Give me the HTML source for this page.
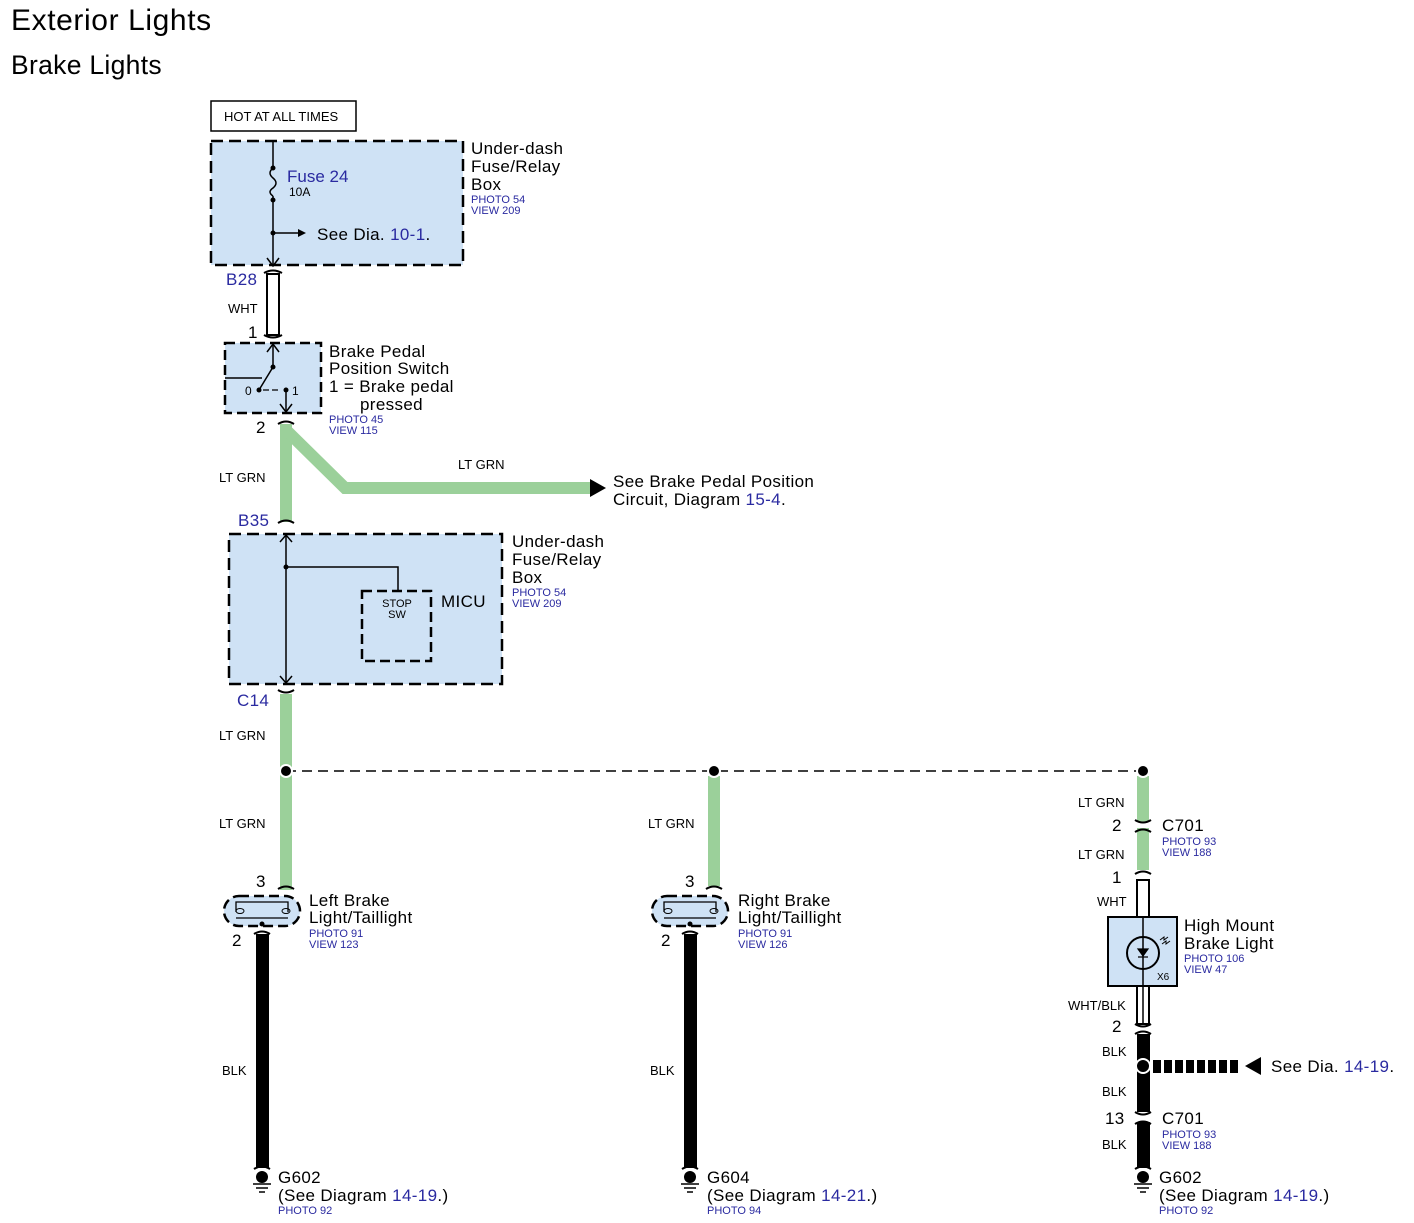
<!DOCTYPE html>
<html><head><meta charset="utf-8">
<style>
html,body{margin:0;padding:0;background:#fff;}
svg{display:block;font-family:"Liberation Sans",Arial,sans-serif;}
.b{fill:#2a2aa0}
.s{font-size:11px;fill:#2a2aa0}
.w{font-size:13px}
.t{font-size:17px;letter-spacing:0.35px}
</style></head><body>
<svg width="1414" height="1223" viewBox="0 0 1414 1223" xmlns="http://www.w3.org/2000/svg">
<rect width="1414" height="1223" fill="#fff"/>
<text x="11" y="30" font-size="30" letter-spacing="0.6">Exterior Lights</text>
<text x="11" y="74" font-size="26.5" letter-spacing="0.3">Brake Lights</text>

<!-- HOT AT ALL TIMES -->
<rect x="211" y="101" width="145" height="30" fill="#fff" stroke="#000" stroke-width="1.5"/>
<text x="224" y="121" font-size="13">HOT AT ALL TIMES</text>

<!-- Fuse box -->
<rect x="211" y="141" width="252" height="124" fill="#cfe2f5" stroke="#000" stroke-width="2.5" stroke-dasharray="12,6"/>
<line x1="273" y1="141" x2="273" y2="168" stroke="#000" stroke-width="1.5"/>
<path d="M273 168 q-6 5 0 10 q6 5 0 10 q-6 4 0 8" fill="none" stroke="#000" stroke-width="1.5"/>
<line x1="273" y1="196" x2="273" y2="265" stroke="#000" stroke-width="1.5"/>
<circle cx="273" cy="168" r="2.5"/><circle cx="273" cy="200" r="2.5"/><circle cx="273" cy="233" r="2.5"/>
<line x1="273" y1="233" x2="300" y2="233" stroke="#000" stroke-width="1.5"/>
<path d="M298 229 L306 233 L298 237 Z"/>
<path d="M267 258 L273 266 L279 258" fill="none" stroke="#000" stroke-width="1.5"/>
<text x="287" y="182" font-size="17" class="b">Fuse 24</text>
<text x="289" y="196" font-size="12">10A</text>
<text x="317" y="240" class="t">See Dia. <tspan class="b">10-1</tspan>.</text>
<text x="471" y="154" class="t">Under-dash</text>
<text x="471" y="172" class="t">Fuse/Relay</text>
<text x="471" y="190" class="t">Box</text>
<text x="471" y="203" class="s">PHOTO 54</text>
<text x="471" y="214" class="s">VIEW 209</text>

<!-- WHT wire B28 -->
<text x="226" y="285" class="t b">B28</text>
<path d="M264 273 q9 -5 18 0 M264 335 q9 5 18 0" fill="none" stroke="#000" stroke-width="2"/>
<rect x="267" y="274" width="12" height="61" fill="#fff" stroke="#000" stroke-width="2"/>
<text x="228" y="313" class="w">WHT</text>
<text x="248" y="338" class="t">1</text>

<!-- Brake pedal switch -->
<rect x="225" y="343" width="96" height="70" fill="#cfe2f5" stroke="#000" stroke-width="2.5" stroke-dasharray="10,5"/>
<path d="M267 352 L273 344 L279 352" fill="none" stroke="#000" stroke-width="1.5"/>
<line x1="273" y1="344" x2="273" y2="367" stroke="#000" stroke-width="1.5"/>
<circle cx="273" cy="367" r="2.5"/>
<line x1="273" y1="367" x2="259" y2="390" stroke="#000" stroke-width="1.5"/>
<circle cx="259" cy="390" r="2.5"/><circle cx="286" cy="390" r="2.5"/>
<line x1="225" y1="378" x2="262" y2="378" stroke="#000" stroke-width="1.5"/>
<path d="M263 390 h6 M272 390 h6" stroke="#000" stroke-width="1.2"/>
<line x1="286" y1="390" x2="286" y2="411" stroke="#000" stroke-width="1.5"/>
<path d="M280 404 L286 412 L292 404" fill="none" stroke="#000" stroke-width="1.5"/>
<text x="245" y="395" font-size="12">0</text>
<text x="292" y="395" font-size="12">1</text>
<text x="329" y="357" class="t">Brake Pedal</text>
<text x="329" y="374" class="t">Position Switch</text>
<text x="329" y="392" class="t">1 = Brake pedal</text>
<text x="360" y="410" class="t">pressed</text>
<text x="329" y="423" class="s">PHOTO 45</text>
<text x="329" y="434" class="s">VIEW 115</text>
<text x="256" y="433" class="t">2</text>

<!-- green wires -->
<g stroke="#9bd09a" stroke-width="12" fill="none">
<path d="M286 424 V522"/>
<path d="M286 430 L345 488 H592" stroke-linejoin="miter"/>
<path d="M286 694 V890"/>
<path d="M714 776 V886"/>
<path d="M1143 776 V822"/>
<path d="M1143 828 V870"/>
</g>
<path d="M590 479 L606 488 L590 497 Z"/>
<text x="458" y="469" class="w">LT GRN</text>
<text x="613" y="487" class="t">See Brake Pedal Position</text>
<text x="613" y="505" class="t">Circuit, Diagram <tspan class="b">15-4</tspan>.</text>
<path d="M278 424 q8 -5 16 0" fill="none" stroke="#000" stroke-width="2"/>
<text x="219" y="482" class="w">LT GRN</text>

<!-- MICU box -->
<text x="238" y="526" class="t b">B35</text>
<path d="M278 523 q8 -5 16 0 M278 690 q8 5 16 0" fill="none" stroke="#000" stroke-width="2"/>
<rect x="229" y="534" width="273" height="150" fill="#cfe2f5" stroke="#000" stroke-width="2.5" stroke-dasharray="12,6"/>
<line x1="286" y1="535" x2="286" y2="683" stroke="#000" stroke-width="1.5"/>
<path d="M280 542 L286 535 L292 542 M280 676 L286 683 L292 676" fill="none" stroke="#000" stroke-width="1.5"/>
<circle cx="286" cy="567" r="2.5"/>
<path d="M286 567 H398 V591" fill="none" stroke="#000" stroke-width="1.5"/>
<rect x="362" y="591" width="69" height="70" fill="none" stroke="#000" stroke-width="2.5" stroke-dasharray="10,5"/>
<text x="397" y="607" font-size="11" text-anchor="middle">STOP</text>
<text x="397" y="618" font-size="11" text-anchor="middle">SW</text>
<text x="441" y="607" class="t">MICU</text>
<text x="512" y="547" class="t">Under-dash</text>
<text x="512" y="565" class="t">Fuse/Relay</text>
<text x="512" y="583" class="t">Box</text>
<text x="512" y="596" class="s">PHOTO 54</text>
<text x="512" y="607" class="s">VIEW 209</text>
<text x="237" y="706" class="t b">C14</text>
<text x="219" y="740" class="w">LT GRN</text>

<!-- dashed bus -->
<line x1="286" y1="771" x2="1143" y2="771" stroke="#000" stroke-width="1.5" stroke-dasharray="10,6"/>
<circle cx="286" cy="771" r="6" stroke="#fff" stroke-width="2"/>
<circle cx="714" cy="771" r="6" stroke="#fff" stroke-width="2"/>
<circle cx="1143" cy="771" r="6" stroke="#fff" stroke-width="2"/>

<!-- Left light -->
<text x="219" y="828" class="w">LT GRN</text>
<text x="256" y="887" class="t">3</text>
<path d="M278 889 q8 -5 16 0" fill="none" stroke="#000" stroke-width="2"/>
<rect x="224" y="896" width="76" height="30" rx="15" fill="#cfe2f5" stroke="#000" stroke-width="2.5" stroke-dasharray="10,5"/>
<path d="M236 912 V902 h52 V912 M236 918 h52" fill="none" stroke="#000" stroke-width="1.3"/>
<ellipse cx="240" cy="911" rx="4" ry="2.5" fill="none" stroke="#000"/><ellipse cx="286" cy="911" rx="4" ry="2.5" fill="none" stroke="#000"/>
<circle cx="262" cy="924" r="2.5"/>
<rect x="256" y="934" width="13" height="234"/>
<path d="M254 934 q8 -5 16 0" fill="none" stroke="#000" stroke-width="2"/>
<text x="232" y="946" class="t">2</text>
<text x="309" y="906" class="t">Left Brake</text>
<text x="309" y="923" class="t">Light/Taillight</text>
<text x="309" y="937" class="s">PHOTO 91</text>
<text x="309" y="948" class="s">VIEW 123</text>
<text x="222" y="1075" class="w">BLK</text>

<!-- Right light -->
<text x="648" y="828" class="w">LT GRN</text>
<text x="685" y="887" class="t">3</text>
<path d="M706 889 q8 -5 16 0" fill="none" stroke="#000" stroke-width="2"/>
<rect x="652" y="896" width="76" height="30" rx="15" fill="#cfe2f5" stroke="#000" stroke-width="2.5" stroke-dasharray="10,5"/>
<path d="M664 912 V902 h52 V912 M664 918 h52" fill="none" stroke="#000" stroke-width="1.3"/>
<ellipse cx="668" cy="911" rx="4" ry="2.5" fill="none" stroke="#000"/><ellipse cx="714" cy="911" rx="4" ry="2.5" fill="none" stroke="#000"/>
<circle cx="690" cy="924" r="2.5"/>
<rect x="684" y="934" width="13" height="234"/>
<path d="M682 934 q8 -5 16 0" fill="none" stroke="#000" stroke-width="2"/>
<text x="661" y="946" class="t">2</text>
<text x="738" y="906" class="t">Right Brake</text>
<text x="738" y="923" class="t">Light/Taillight</text>
<text x="738" y="937" class="s">PHOTO 91</text>
<text x="738" y="948" class="s">VIEW 126</text>
<text x="650" y="1075" class="w">BLK</text>

<!-- High mount -->
<text x="1078" y="807" class="w">LT GRN</text>
<text x="1112" y="831" class="t">2</text>
<path d="M1135 820 q8 5 16 0 M1135 832 q8 -5 16 0" fill="none" stroke="#000" stroke-width="2"/>
<text x="1162" y="831" class="t">C701</text>
<text x="1162" y="845" class="s">PHOTO 93</text>
<text x="1162" y="856" class="s">VIEW 188</text>
<text x="1078" y="859" class="w">LT GRN</text>
<text x="1112" y="883" class="t">1</text>
<path d="M1135 874 q8 -5 16 0" fill="none" stroke="#000" stroke-width="2"/>
<rect x="1137" y="880" width="12" height="38" fill="#fff" stroke="#000" stroke-width="2"/>
<text x="1097" y="906" class="w">WHT</text>
<rect x="1108" y="917" width="69" height="69" fill="#cfe2f5" stroke="#000" stroke-width="2"/>
<line x1="1143" y1="917" x2="1143" y2="986" stroke="#000" stroke-width="1.5"/>
<circle cx="1143" cy="953" r="16" fill="none" stroke="#000" stroke-width="2"/>
<path d="M1138 949 h10 l-5 7 Z M1138 957 h10"  stroke="#000" stroke-width="1.2"/>
<path d="M1160 940 l4 -3 l0 3 l4 -3 M1162 944 l4 -3 l0 3 l4 -3" fill="none" stroke="#000" stroke-width="1"/>
<text x="1157" y="980" font-size="10">X6</text>
<text x="1184" y="931" class="t">High Mount</text>
<text x="1184" y="949" class="t">Brake Light</text>
<text x="1184" y="962" class="s">PHOTO 106</text>
<text x="1184" y="973" class="s">VIEW 47</text>
<rect x="1137" y="986" width="12" height="38" fill="#fff" stroke="#000" stroke-width="2"/>
<line x1="1143" y1="986" x2="1143" y2="1024" stroke="#000" stroke-width="1.5"/>
<text x="1068" y="1010" class="w">WHT/BLK</text>
<text x="1112" y="1032" class="t">2</text>
<path d="M1135 1024 q8 5 16 0 M1135 1034 q8 -5 16 0" fill="none" stroke="#000" stroke-width="2"/>
<rect x="1137" y="1034" width="13" height="78"/>
<rect x="1137" y="1122" width="13" height="46"/>
<path d="M1135 1112 q8 5 16 0 M1135 1124 q8 -5 16 0" fill="none" stroke="#000" stroke-width="2"/>
<text x="1102" y="1056" class="w">BLK</text>
<circle cx="1143" cy="1066" r="7" stroke="#fff" stroke-width="2"/>
<g fill="#000">
<rect x="1153" y="1060" width="8" height="13"/><rect x="1164" y="1060" width="8" height="13"/><rect x="1175" y="1060" width="8" height="13"/><rect x="1186" y="1060" width="8" height="13"/><rect x="1197" y="1060" width="8" height="13"/><rect x="1208" y="1060" width="8" height="13"/><rect x="1219" y="1060" width="8" height="13"/><rect x="1230" y="1060" width="8" height="13"/>
</g>
<path d="M1245 1066 L1261 1057 L1261 1075 Z"/>
<text x="1271" y="1072" class="t">See Dia. <tspan class="b">14-19</tspan>.</text>
<text x="1102" y="1096" class="w">BLK</text>
<text x="1105" y="1124" class="t">13</text>
<text x="1162" y="1124" class="t">C701</text>
<text x="1162" y="1138" class="s">PHOTO 93</text>
<text x="1162" y="1149" class="s">VIEW 188</text>
<text x="1102" y="1149" class="w">BLK</text>

<!-- grounds -->
<g>
<path d="M254 1169 q8 -5 16 0" fill="none" stroke="#000" stroke-width="2"/>
<circle cx="262" cy="1177" r="6"/><path d="M253 1184 h18 M256 1188 h12 M259 1192 h6" stroke="#000" stroke-width="1.5"/>
<path d="M682 1169 q8 -5 16 0" fill="none" stroke="#000" stroke-width="2"/>
<circle cx="690" cy="1177" r="6"/><path d="M681 1184 h18 M684 1188 h12 M687 1192 h6" stroke="#000" stroke-width="1.5"/>
<path d="M1135 1169 q8 -5 16 0" fill="none" stroke="#000" stroke-width="2"/>
<circle cx="1143" cy="1177" r="6"/><path d="M1134 1184 h18 M1137 1188 h12 M1140 1192 h6" stroke="#000" stroke-width="1.5"/>
</g>
<text x="278" y="1183" class="t">G602</text>
<text x="278" y="1201" class="t">(See Diagram <tspan class="b">14-19</tspan>.)</text>
<text x="278" y="1214" class="s">PHOTO 92</text>
<text x="707" y="1183" class="t">G604</text>
<text x="707" y="1201" class="t">(See Diagram <tspan class="b">14-21</tspan>.)</text>
<text x="707" y="1214" class="s">PHOTO 94</text>
<text x="1159" y="1183" class="t">G602</text>
<text x="1159" y="1201" class="t">(See Diagram <tspan class="b">14-19</tspan>.)</text>
<text x="1159" y="1214" class="s">PHOTO 92</text>
</svg>
</body></html>
